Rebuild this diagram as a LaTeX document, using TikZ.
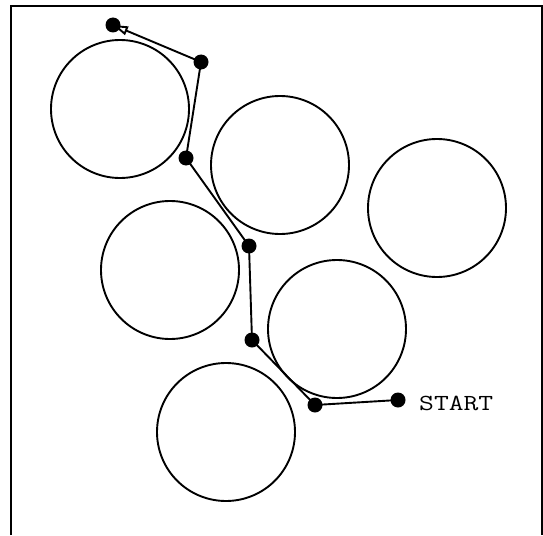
\documentclass[tikz,border=0pt]{standalone}
\usetikzlibrary{arrows.meta}
\begin{document}
\begin{tikzpicture}[x=1pt, y=-1pt, line width=1.9pt, >={Triangle[open,length=15pt,width=9pt]},
  obstacle/.style={draw, circle, minimum size=138pt, inner sep=0pt},
  waypoint/.style={fill, circle, minimum size=15pt, inner sep=0pt}]
  \useasboundingbox (0,0) rectangle (543,535);
  % frame
  \draw (11,535) -- (11,6) -- (542,6) -- (542,535);

  % obstacles
  \node[obstacle] (o1) at (120,109) {};
  \node[obstacle] (o2) at (280,165) {};
  \node[obstacle] (o3) at (437,208) {};
  \node[obstacle] (o4) at (170,270) {};
  \node[obstacle] (o5) at (337,329) {};
  \node[obstacle] (o6) at (226,432) {};

  % path points
  \coordinate (p0) at (398,400);
  \coordinate (p1) at (315,405);
  \coordinate (p2) at (252,340);
  \coordinate (p3) at (249,246);
  \coordinate (p4) at (186,158);
  \coordinate (p5) at (201,62);
  \coordinate (p6) at (113,25);

  % path
  \draw (p0) -- (p1) -- (p2) -- (p3) -- (p4) -- (p5);
  \draw[->] (p5) -- (p6);

  % waypoints
  \foreach \p in {p0,p1,p2,p3,p4,p5,p6}
    \node[waypoint] (w\p) at (\p) {};

  \node[anchor=west, font=\ttfamily\fontsize{23}{26}\selectfont, inner sep=0pt, xscale=1.25] (start) at (418,403) {START};
\end{tikzpicture}
\end{document}
